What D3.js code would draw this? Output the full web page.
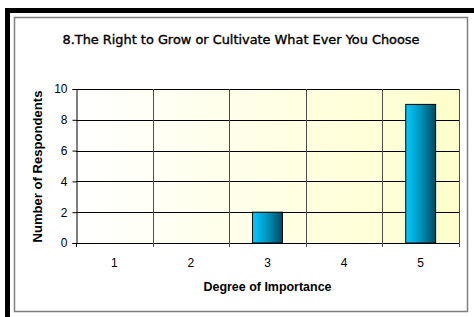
<!DOCTYPE html>
<html>
<head>
<meta charset="utf-8">
<script src="https://cdn.jsdelivr.net/npm/d3@7"></script>
<style>
  body { margin: 0; background: #fff; }
  svg { display: block; }
</style>
</head>
<body>
<div class="chart"></div>
<script>
var svgWidth = 474;
var svgHeight = 317;

// chart values
var categories = ["1", "2", "3", "4", "5"];
var respondents = [0, 0, 2, 0, 9];
var yTicks = [0, 2, 4, 6, 8, 10];

var titleText = "8.The Right to Grow or Cultivate What Ever You Choose";
var xTitle = "Degree of Importance";
var yTitle = "Number of Respondents";

var margin = { top: 89, right: 15, bottom: 74, left: 76 };
var width = svgWidth - margin.left - margin.right;
var height = svgHeight - margin.top - margin.bottom;

var svg = d3.select(".chart")
  .append("svg")
  .attr("width", svgWidth)
  .attr("height", svgHeight);

var defs = svg.append("defs");

var bgGrad = defs.append("linearGradient")
  .attr("id", "plotBg")
  .attr("x1", "0%").attr("x2", "100%").attr("y1", "0%").attr("y2", "0%");
bgGrad.append("stop").attr("offset", "0%").attr("stop-color", "#ffffff");
bgGrad.append("stop").attr("offset", "100%").attr("stop-color", "#ffffcc");

var barGrad = defs.append("linearGradient")
  .attr("id", "barFill")
  .attr("x1", "0%").attr("x2", "100%").attr("y1", "0%").attr("y2", "0%");
barGrad.append("stop").attr("offset", "0%").attr("stop-color", "#00ccff");
barGrad.append("stop").attr("offset", "45%").attr("stop-color", "#0099c4");
barGrad.append("stop").attr("offset", "100%").attr("stop-color", "#004a60");

// outer black frame (left + top only)
svg.append("rect")
  .attr("x", 5).attr("y", 8)
  .attr("width", 5).attr("height", svgHeight - 8)
  .attr("fill", "#000");
svg.append("rect")
  .attr("x", 5).attr("y", 8)
  .attr("width", svgWidth - 5).attr("height", 5)
  .attr("fill", "#000");

// chart area border
svg.append("rect")
  .attr("x", 14.5).attr("y", 17.5)
  .attr("width", 453).attr("height", 294)
  .attr("fill", "#fff")
  .attr("stroke", "#7f7f7f")
  .attr("stroke-width", 1.5);

var chartGroup = svg.append("g")
  .attr("transform", `translate(${margin.left}, ${margin.top})`);

var xBandScale = d3.scaleBand()
  .domain(categories)
  .range([0, width])
  .paddingInner(0.61)
  .paddingOuter(0.305);

var xEdges = d3.scaleLinear()
  .domain([0, categories.length])
  .range([0, width]);

var yLinearScale = d3.scaleLinear()
  .domain([0, 10])
  .range([height, 0]);

// plot background
chartGroup.append("rect")
  .attr("width", width)
  .attr("height", height)
  .attr("fill", "url(#plotBg)");

// horizontal gridlines
chartGroup.append("g")
  .selectAll("line")
  .data(yTicks)
  .enter()
  .append("line")
  .attr("x1", 0)
  .attr("x2", width)
  .attr("y1", d => Math.round(yLinearScale(d)) + 0.5)
  .attr("y2", d => Math.round(yLinearScale(d)) + 0.5)
  .attr("stroke", "#000");

// vertical gridlines
chartGroup.append("g")
  .selectAll("line")
  .data(d3.range(1, categories.length + 1))
  .enter()
  .append("line")
  .attr("x1", d => Math.round(xEdges(d)) + 0.5)
  .attr("x2", d => Math.round(xEdges(d)) + 0.5)
  .attr("y1", 0)
  .attr("y2", height + 4)
  .attr("stroke", "#4d4d4d");

// left axis
var leftAxis = d3.axisLeft(yLinearScale)
  .tickValues(yTicks)
  .tickSize(4)
  .tickPadding(5);

var yAxis = chartGroup.append("g")
  .attr("transform", "translate(0.5, 0)")
  .call(leftAxis);
yAxis.attr("font-size", null).attr("font-family", null);
yAxis.select(".domain").attr("stroke", "#000");
yAxis.selectAll("text")
  .style("font-family", "Liberation Sans, Arial, sans-serif")
  .style("font-size", "12px")
  .attr("fill", "#000");

// bottom tick at left edge
chartGroup.append("line")
  .attr("x1", 0.5).attr("x2", 0.5)
  .attr("y1", height).attr("y2", height + 4)
  .attr("stroke", "#000");

// x labels
chartGroup.append("g")
  .selectAll("text")
  .data(categories)
  .enter()
  .append("text")
  .attr("x", d => xBandScale(d) + xBandScale.bandwidth() / 2)
  .attr("y", height + 24)
  .attr("text-anchor", "middle")
  .style("font-family", "Liberation Sans, Arial, sans-serif")
  .style("font-size", "12px")
  .text(d => d);

// bars
chartGroup.append("g")
  .selectAll("rect")
  .data(respondents.map((v, i) => ({ cat: categories[i], value: v })).filter(d => d.value > 0))
  .enter()
  .append("rect")
  .attr("x", d => xBandScale(d.cat))
  .attr("y", d => yLinearScale(d.value))
  .attr("width", xBandScale.bandwidth())
  .attr("height", d => height - yLinearScale(d.value))
  .attr("fill", "url(#barFill)")
  .attr("stroke", "#000")
  .attr("stroke-width", 1);

// title
svg.append("text")
  .attr("x", 241)
  .attr("y", 44)
  .attr("text-anchor", "middle")
  .style("font-family", "DejaVu Sans, Verdana, sans-serif")
  .style("font-size", "12px")
  .attr("stroke", "#000")
  .attr("stroke-width", 0.35)
  .attr("textLength", 357)
  .attr("lengthAdjust", "spacingAndGlyphs")
  .text(titleText);

// x axis title
svg.append("text")
  .attr("x", margin.left + width / 2)
  .attr("y", 291)
  .attr("text-anchor", "middle")
  .style("font-family", "Liberation Sans, Arial, sans-serif")
  .style("font-size", "12px")
  .style("font-weight", "bold")
  .attr("textLength", 128)
  .attr("lengthAdjust", "spacingAndGlyphs")
  .text(xTitle);

// y axis title
svg.append("text")
  .attr("transform", `translate(42, ${margin.top + height / 2 + 0.5}) rotate(-90)`)
  .attr("text-anchor", "middle")
  .style("font-family", "Liberation Sans, Arial, sans-serif")
  .style("font-size", "12px")
  .style("font-weight", "bold")
  .attr("textLength", 152)
  .attr("lengthAdjust", "spacingAndGlyphs")
  .text(yTitle);
</script>
</body>
</html>
